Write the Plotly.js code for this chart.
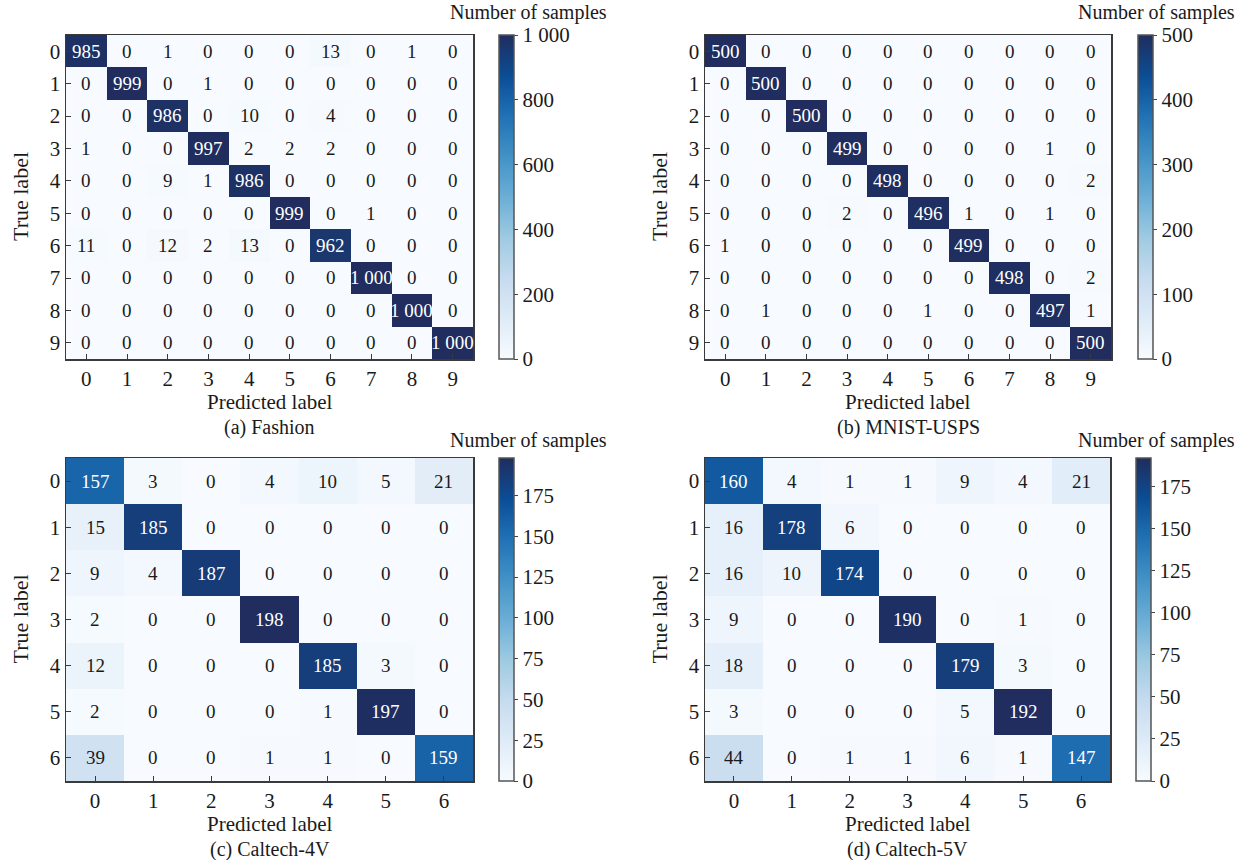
<!DOCTYPE html>
<html>
<head>
<meta charset="utf-8">
<script src="https://cdn.plot.ly/plotly-3.0.1.min.js"></script>
<style>html,body{margin:0;padding:0;background:#fff}</style>
</head>
<body>
<div id="chart" style="width:1244px;height:860px"></div>
<script>
// ---------- data ----------
const labels10 = [0, 1, 2, 3, 4, 5, 6, 7, 8, 9];
const labels7 = [0, 1, 2, 3, 4, 5, 6];

const fashion = [
  [985, 0, 1, 0, 0, 0, 13, 0, 1, 0],
  [0, 999, 0, 1, 0, 0, 0, 0, 0, 0],
  [0, 0, 986, 0, 10, 0, 4, 0, 0, 0],
  [1, 0, 0, 997, 2, 2, 2, 0, 0, 0],
  [0, 0, 9, 1, 986, 0, 0, 0, 0, 0],
  [0, 0, 0, 0, 0, 999, 0, 1, 0, 0],
  [11, 0, 12, 2, 13, 0, 962, 0, 0, 0],
  [0, 0, 0, 0, 0, 0, 0, 1000, 0, 0],
  [0, 0, 0, 0, 0, 0, 0, 0, 1000, 0],
  [0, 0, 0, 0, 0, 0, 0, 0, 0, 1000]
];
const mnistUsps = [
  [500, 0, 0, 0, 0, 0, 0, 0, 0, 0],
  [0, 500, 0, 0, 0, 0, 0, 0, 0, 0],
  [0, 0, 500, 0, 0, 0, 0, 0, 0, 0],
  [0, 0, 0, 499, 0, 0, 0, 0, 1, 0],
  [0, 0, 0, 0, 498, 0, 0, 0, 0, 2],
  [0, 0, 0, 2, 0, 496, 1, 0, 1, 0],
  [1, 0, 0, 0, 0, 0, 499, 0, 0, 0],
  [0, 0, 0, 0, 0, 0, 0, 498, 0, 2],
  [0, 1, 0, 0, 0, 1, 0, 0, 497, 1],
  [0, 0, 0, 0, 0, 0, 0, 0, 0, 500]
];
const caltech4V = [
  [157, 3, 0, 4, 10, 5, 21],
  [15, 185, 0, 0, 0, 0, 0],
  [9, 4, 187, 0, 0, 0, 0],
  [2, 0, 0, 198, 0, 0, 0],
  [12, 0, 0, 0, 185, 3, 0],
  [2, 0, 0, 0, 1, 197, 0],
  [39, 0, 0, 1, 1, 0, 159]
];
const caltech5V = [
  [160, 4, 1, 1, 9, 4, 21],
  [16, 178, 6, 0, 0, 0, 0],
  [16, 10, 174, 0, 0, 0, 0],
  [9, 0, 0, 190, 0, 1, 0],
  [18, 0, 0, 0, 179, 3, 0],
  [3, 0, 0, 0, 5, 192, 0],
  [44, 0, 1, 1, 6, 1, 147]
];
const fashionTicks = [0, 200, 400, 600, 800, 1000];
const mnistTicks = [0, 100, 200, 300, 400, 500];
const caltechTicks = [0, 25, 50, 75, 100, 125, 150, 175];
const subtitles = ['(a) Fashion', '(b) MNIST-USPS', '(c) Caltech-4V', '(d) Caltech-5V'];

// ---------- layout helpers ----------
const W = 1244, H = 860;
const FONT = '"Liberation Serif", "Times New Roman", serif';
const TXT = '#1a1a1a';
const px = v => v / W;
const py = v => 1 - v / H;
const fmt = v => v >= 1000 ? String(v).replace(/\B(?=(\d{3})+(?!\d))/g, ' ') : String(v);

const colorscale = [
  [0.0, '#f7fbff'], [0.125, '#deebf7'], [0.25, '#c6dbef'], [0.375, '#9ecae1'],
  [0.5, '#6baed6'], [0.625, '#4292c6'], [0.75, '#2171b5'], [0.875, '#0b4d94'], [1.0, '#202d5e']
];

const panels = [
  {z: fashion, labels: labels10, ticks: fashionTicks, sub: subtitles[0], box: [66, 473, 35, 359], cbx: 499, cbTitle: [528, 13]},
  {z: mnistUsps, labels: labels10, ticks: mnistTicks, sub: subtitles[1], box: [705, 1111, 35, 359], cbx: 1138, cbTitle: [1156, 13]},
  {z: caltech4V, labels: labels7, ticks: caltechTicks, sub: subtitles[2], box: [66, 473, 458, 781], cbx: 499, cbTitle: [528, 440]},
  {z: caltech5V, labels: labels7, ticks: caltechTicks, sub: subtitles[3], box: [705, 1110, 458, 781], cbx: 1136, cbTitle: [1156, 440]}
];

const data = [];
const layout = {
  width: W, height: H,
  margin: {l: 0, r: 0, t: 0, b: 0},
  paper_bgcolor: '#fff', plot_bgcolor: '#fff',
  font: {family: FONT, color: TXT},
  showlegend: false,
  annotations: []
};

panels.forEach((p, i) => {
  const n = p.labels.length;
  const zmax = Math.max(...p.z.flat());
  const [l, r, t, b] = p.box;
  const sfx = i === 0 ? '' : String(i + 1);
  const xa = 'x' + sfx, ya = 'y' + sfx;

  data.push({
    type: 'heatmap',
    x: p.labels, y: p.labels, z: p.z,
    xaxis: xa, yaxis: ya,
    zmin: 0, zmax: zmax,
    colorscale: colorscale,
    hoverinfo: 'skip',
    colorbar: {
      x: px(p.cbx), xanchor: 'left', xpad: 0, xref: 'paper',
      y: 1 - ((t + b) / 2) / H, yanchor: 'middle', ypad: 0,
      len: b - t, lenmode: 'pixels',
      thickness: 15, thicknessmode: 'pixels',
      outlinewidth: 1.5, outlinecolor: '#555',
      ticks: 'outside', ticklen: 4, tickcolor: '#444', tickwidth: 1,
      tickvals: p.ticks, ticktext: p.ticks.map(fmt),
      tickfont: {family: FONT, size: 21, color: TXT}
    }
  });

  const axCommon = {
    showgrid: false, zeroline: false,
    showline: true, mirror: true, linecolor: '#3a3a3a', linewidth: 1.5,
    ticks: 'inside', ticklen: 5, tickwidth: 1, tickcolor: '#3a3a3a',
    tickvals: p.labels, ticktext: p.labels.map(String),
    tickfont: {family: FONT, size: 21, color: TXT},
    fixedrange: true
  };
  layout['xaxis' + sfx] = Object.assign({}, axCommon, {
    domain: [px(l), px(r)], anchor: ya, range: [-0.5, n - 0.5]
  });
  layout['yaxis' + sfx] = Object.assign({}, axCommon, {
    domain: [py(b), py(t)], anchor: xa, range: [n - 0.5, -0.5]
  });

  // cell values
  p.z.forEach((row, ri) => row.forEach((v, ci) => {
    layout.annotations.push({
      xref: xa, yref: ya, x: p.labels[ci], y: p.labels[ri],
      text: fmt(v), showarrow: false,
      font: {family: FONT, size: 19, color: v > zmax / 2 ? '#ffffff' : TXT}
    });
  }));

  const cx = (l + r) / 2;
  layout.annotations.push({
    xref: 'paper', yref: 'paper', x: px(cx), y: py(b + 43),
    xanchor: 'center', yanchor: 'middle', showarrow: false,
    text: 'Predicted label', font: {family: FONT, size: 21, color: TXT}
  });
  layout.annotations.push({
    xref: 'paper', yref: 'paper', x: px(cx), y: py(b + 68),
    xanchor: 'center', yanchor: 'middle', showarrow: false,
    text: p.sub, font: {family: FONT, size: 20, color: TXT}
  });
  layout.annotations.push({
    xref: 'paper', yref: 'paper', x: px(l - 46), y: py((t + b) / 2),
    xanchor: 'center', yanchor: 'middle', showarrow: false, textangle: -90,
    text: 'True label', font: {family: FONT, size: 22, color: TXT}
  });
  layout.annotations.push({
    xref: 'paper', yref: 'paper', x: px(p.cbTitle[0]), y: py(p.cbTitle[1]),
    xanchor: 'center', yanchor: 'middle', showarrow: false,
    text: 'Number of samples', font: {family: FONT, size: 20, color: TXT}
  });
});

Plotly.newPlot('chart', data, layout, {displayModeBar: false, staticPlot: true});
</script>
</body>
</html>
